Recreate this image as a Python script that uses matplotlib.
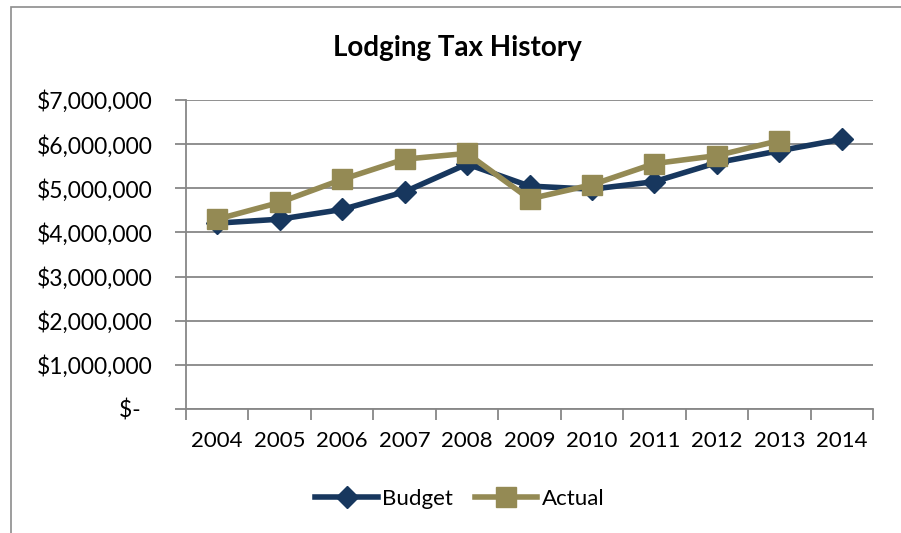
import matplotlib
matplotlib.use("Agg")
import matplotlib.pyplot as plt
from matplotlib.patches import Rectangle
from matplotlib.lines import Line2D
from matplotlib.ticker import FuncFormatter

years = ["2004", "2005", "2006", "2007", "2008", "2009",
         "2010", "2011", "2012", "2013", "2014"]
budget = [4.21e6, 4.30e6, 4.52e6, 4.92e6, 5.55e6, 5.05e6,
          4.98e6, 5.15e6, 5.58e6, 5.85e6, 6.11e6]
actual = [4.30e6, 4.68e6, 5.20e6, 5.66e6, 5.79e6, 4.76e6,
          5.08e6, 5.56e6, 5.74e6, 6.08e6]

navy = "#17375E"
gold = "#948A54"
grid = "#878787"

plt.rcParams["font.family"] = ["Lato", "DejaVu Sans"]

fig = plt.figure(figsize=(9.01, 5.33), dpi=100)

# outer chart frame
fig.patches.append(Rectangle((11 / 901, -0.05), 1.2, (533 - 7) / 533 + 0.05,
                             transform=fig.transFigure, fill=False,
                             edgecolor="#8c8c8c", linewidth=1.2))

ax = fig.add_axes([186 / 901, (533 - 409) / 533, (873 - 186) / 901, (409 - 100) / 533])

x = list(range(len(years)))
ax.plot(x, budget, color=navy, linewidth=4, marker="D", markersize=11,
        markerfacecolor=navy, markeredgecolor=navy, zorder=3, solid_joinstyle="round")
ax.plot(x[:len(actual)], actual, color=gold, linewidth=4, marker="s", markersize=14,
        markerfacecolor=gold, markeredgecolor=gold, zorder=4, solid_joinstyle="round")

ax.set_xlim(-0.5, len(years) - 0.5)
ax.set_ylim(0, 7e6)
ax.set_yticks([i * 1e6 for i in range(8)])


def money(v, pos):
    if v == 0:
        return "$-  "
    return "${:,.0f}".format(v)


ax.yaxis.set_major_formatter(FuncFormatter(money))
ax.set_xticks(x)
ax.set_xticklabels(years)
ax.set_xticks([i - 0.5 for i in range(len(years) + 1)], minor=True)
ax.tick_params(axis="x", which="major", length=0, pad=16, labelsize=16)
ax.tick_params(axis="x", which="minor", length=8, width=1.3, color=grid, direction="out")
ax.tick_params(axis="y", length=8, width=1.3, color=grid, direction="out",
               pad=16, labelsize=16.5)

ax.yaxis.grid(True, color=grid, linewidth=1.3)
ax.set_axisbelow(True)
for side in ("top", "right"):
    ax.spines[side].set_visible(False)
for side in ("left", "bottom"):
    ax.spines[side].set_color(grid)
    ax.spines[side].set_linewidth(1.3)

fig.text(457 / 901, 1 - 48 / 533, "Lodging Tax History", ha="center", va="center",
         fontsize=20, fontweight="bold")

handles = [
    Line2D([], [], color=navy, linewidth=4, marker="D", markersize=11),
    Line2D([], [], color=gold, linewidth=4, marker="s", markersize=14),
]
fig.legend(handles, ["Budget", "Actual"], loc="center", bbox_to_anchor=(460 / 901, 1 - 499 / 533),
           ncol=2, frameon=False, fontsize=16, handlelength=2.8, handletextpad=0.2,
           columnspacing=1.0)

fig.savefig("out.png", dpi=100)
